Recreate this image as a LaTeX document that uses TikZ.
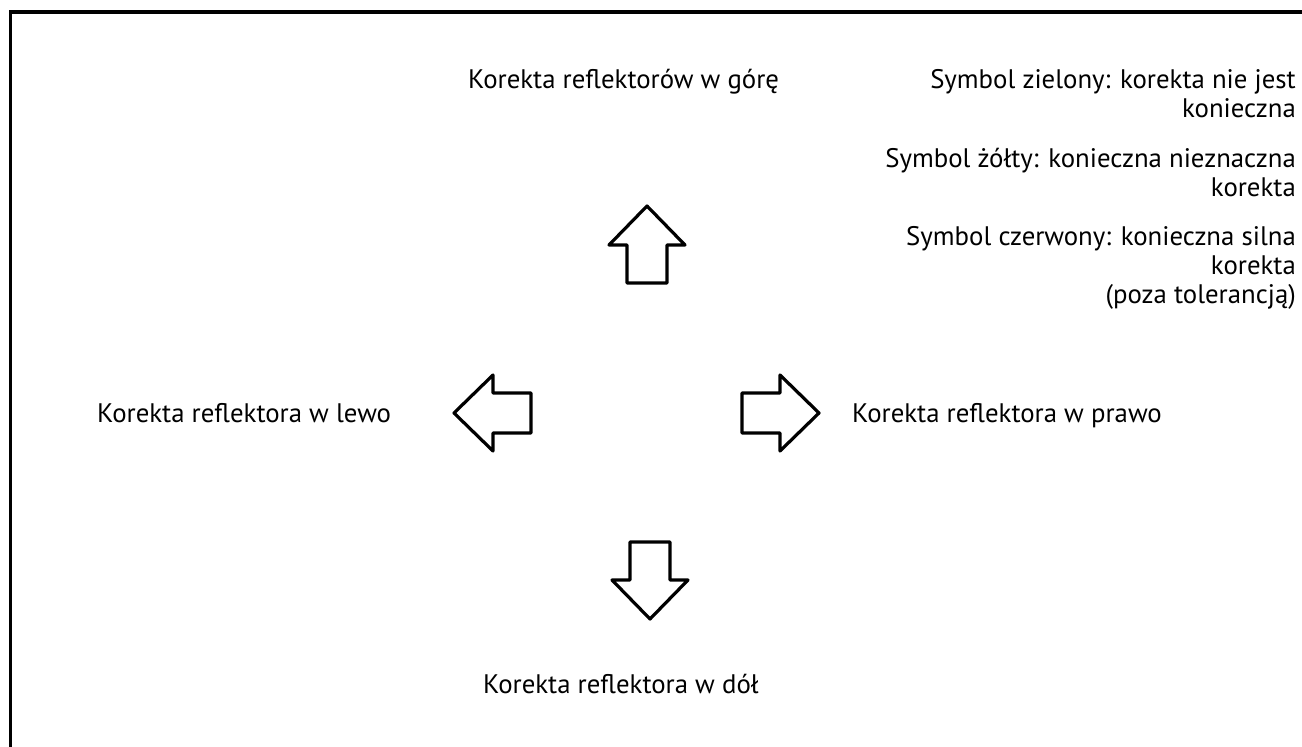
\documentclass[tikz,border=0pt]{standalone}
\usepackage{fontspec}
\setmainfont{PT Sans}
\begin{document}
\begin{tikzpicture}[
    x=1pt, y=-1pt,
    every node/.style={inner sep=0pt, font=\fontsize{26.8}{29}\selectfont},
    label/.style={anchor=base west},
    note/.style={anchor=base east, align=right},
    dirarrow/.pic={
        \draw[line width=3.2pt, line join=round]
            (-38,-20) -- (0,-20) -- (0,-38) -- (39,0) -- (0,38) -- (0,20) -- (-38,20) -- cycle;
    }
]
\useasboundingbox (0,0) rectangle (1302,747);
\draw[line width=3.5pt] (1302,12) -| (10.5,747);

\pic[rotate=90]  at (647,245) {dirarrow};
\pic[rotate=-90] at (650,580) {dirarrow};
\pic[rotate=180] at (493,413) {dirarrow};
\pic             at (780,413) {dirarrow};

\node[label] (up)    at (468,88)  {Korekta reflektorów w górę};
\node[label] (left)  at (97,422)  {Korekta reflektora w lewo};
\node[label] (right) at (852,422) {Korekta reflektora w prawo};
\node[label] (down)  at (483,693) {Korekta reflektora w dół};

% base anchor sits on the last line
\node[note] (green)  at (1296,117) {Symbol zielony: korekta nie jest\\konieczna};
\node[note] (yellow) at (1296,196) {Symbol żółty: konieczna nieznaczna\\korekta};
\node[note] (red)    at (1296,303) {Symbol czerwony: konieczna silna\\korekta\\(poza tolerancją)};
\end{tikzpicture}
\end{document}
